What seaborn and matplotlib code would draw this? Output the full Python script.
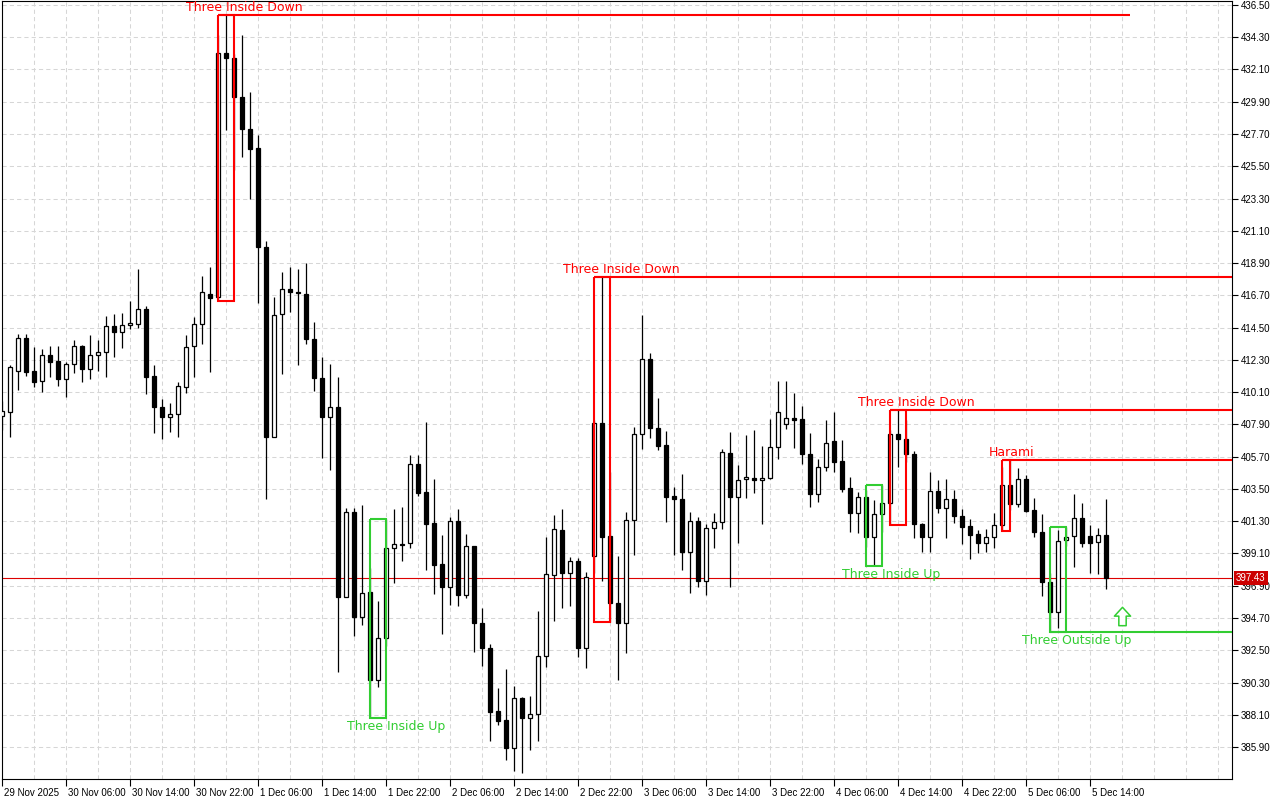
import numpy as np
import matplotlib
matplotlib.use("Agg")
import matplotlib.pyplot as plt
import matplotlib.transforms as mtransforms
from matplotlib.path import Path
import seaborn as sns

# ---------------- data (hourly candles, bar index 0 = 29 Nov 22:00) ----------------
opens = [408.50, 408.77, 411.56, 413.77, 411.54, 410.84, 412.61, 412.22, 410.97, 412.00,
         413.22, 411.66, 412.61, 412.82, 414.59, 414.18, 414.66, 414.74, 415.75, 411.20,
         409.07, 408.42, 408.59, 410.47, 413.22, 414.72, 416.79, 416.57, 433.25, 432.87,
         430.25, 428.02, 426.73, 419.98, 407.06, 415.41, 417.10, 416.94, 416.77, 413.70,
         411.04, 408.38, 409.07, 396.15, 401.90, 394.78, 396.45, 390.47, 393.31, 399.45,
         399.75, 399.79, 405.18, 403.29, 401.15, 398.36, 396.83, 401.31, 396.28, 399.58,
         394.33, 392.67, 388.36, 387.74, 385.81, 389.22, 387.86, 388.13, 392.08, 397.61,
         400.70, 397.78, 398.56, 392.67, 398.90, 407.97, 400.29, 395.74, 394.38, 401.38,
         407.22, 412.34, 407.63, 406.47, 403.00, 402.79, 399.22, 401.29, 397.20, 400.81,
         401.22, 405.93, 402.97, 404.15, 404.22, 404.09, 404.22, 406.34, 407.93, 408.32,
         408.25, 405.86, 403.13, 404.97, 406.77, 405.40, 403.54, 401.84, 402.93, 400.20,
         401.77, 402.52, 407.22, 406.88, 405.86, 401.09, 400.20, 403.36, 402.18, 402.81,
         401.67, 400.97, 400.40, 399.79, 400.20, 401.02, 403.77, 402.47, 404.15, 402.06,
         400.58, 397.13, 395.13, 400.02, 400.29, 401.49, 400.29, 399.90, 400.34]
highs = [409.50, 411.93, 414.06, 414.06, 413.16, 413.02, 413.24, 413.24, 412.13, 413.66,
         413.30, 413.99, 413.66, 415.29, 415.43, 415.50, 416.31, 418.48, 415.97, 411.96,
         409.63, 409.34, 410.81, 413.99, 415.20, 418.02, 418.65, 434.45, 435.82, 433.16,
         434.45, 430.55, 427.63, 420.43, 416.61, 418.27, 418.61, 418.48, 418.88, 414.86,
         412.47, 411.99, 411.11, 402.22, 402.22, 402.40, 398.08, 395.85, 401.43, 402.11,
         402.27, 405.81, 405.81, 408.08, 404.15, 400.36, 401.56, 402.11, 400.43, 399.60,
         395.40, 392.92, 389.94, 391.22, 390.06, 389.33, 389.38, 395.19, 400.24, 401.72,
         402.15, 398.88, 398.77, 397.85, 408.20, 417.97, 404.67, 398.94, 401.90, 407.74,
         415.36, 412.75, 409.68, 407.47, 403.65, 404.52, 401.95, 401.56, 401.11, 401.88,
         406.22, 407.40, 405.13, 407.18, 407.52, 406.43, 408.25, 410.86, 410.86, 410.02,
         409.15, 407.29, 405.54, 408.20, 408.72, 406.83, 404.29, 403.31, 403.43, 402.74,
         403.77, 407.50, 408.88, 408.20, 406.09, 401.20, 404.67, 404.11, 404.15, 403.43,
         402.13, 401.43, 400.70, 400.75, 401.88, 405.01, 405.47, 404.91, 404.45, 402.86,
         401.79, 397.74, 400.70, 400.92, 403.15, 402.52, 401.04, 400.81, 402.81]
lows = [407.50, 407.06, 410.25, 411.22, 410.47, 410.13, 411.15, 410.52, 409.79, 411.43,
        410.77, 411.02, 411.56, 411.15, 412.51, 413.09, 414.38, 414.49, 409.95, 407.33,
        406.88, 407.40, 407.02, 410.02, 411.11, 413.36, 411.49, 416.30, 427.97, 425.25,
        426.11, 423.25, 416.20, 402.81, 407.02, 411.36, 415.58, 411.95, 413.36, 410.20,
        405.63, 404.79, 391.03, 396.10, 393.49, 394.22, 387.88, 389.97, 392.80, 397.06,
        398.60, 399.49, 403.02, 397.97, 396.33, 393.60, 395.58, 395.53, 396.08, 392.40,
        391.42, 386.31, 387.40, 385.01, 384.28, 384.11, 385.69, 386.33, 391.37, 394.51,
        395.40, 395.53, 392.06, 391.27, 397.78, 397.24, 394.44, 390.47, 392.33, 398.99,
        406.22, 406.95, 406.15, 401.22, 398.99, 397.97, 396.42, 396.83, 396.26, 399.49,
        400.74, 396.83, 399.83, 402.90, 403.24, 401.11, 404.15, 405.52, 407.61, 406.31,
        405.18, 402.25, 402.63, 404.74, 404.67, 403.31, 400.58, 400.47, 399.56, 398.26,
        400.58, 401.04, 404.97, 405.35, 400.17, 399.22, 399.22, 401.88, 400.17, 401.20,
        399.74, 398.70, 399.11, 399.22, 399.45, 400.63, 402.06, 402.25, 401.95, 400.20,
        396.20, 393.76, 393.99, 399.61, 398.15, 399.52, 397.74, 397.70, 396.67]
closes = [408.80, 411.79, 413.77, 411.49, 410.81, 412.61, 412.17, 410.97, 412.00, 413.22,
          411.66, 412.61, 412.82, 414.59, 414.18, 414.66, 414.79, 415.75, 411.15, 409.11,
          408.42, 408.59, 410.52, 413.16, 414.72, 416.91, 416.54, 433.21, 432.87, 430.25,
          428.02, 426.66, 419.98, 407.06, 415.36, 417.11, 416.95, 416.85, 413.70, 411.04,
          408.38, 409.07, 396.15, 401.90, 394.78, 396.38, 390.47, 393.31, 399.45, 399.72,
          399.65, 405.18, 403.24, 401.13, 398.33, 396.83, 401.31, 396.28, 399.58, 394.33,
          392.67, 388.31, 387.69, 385.85, 389.22, 387.86, 388.13, 392.08, 397.68, 400.76,
          397.78, 398.56, 392.67, 397.47, 407.97, 400.24, 395.70, 394.38, 401.38, 407.24,
          412.34, 407.63, 406.45, 402.97, 402.79, 399.22, 401.29, 397.24, 400.81, 401.22,
          406.00, 402.97, 404.09, 404.29, 404.10, 404.24, 406.34, 408.77, 408.31, 408.20,
          405.86, 403.13, 404.97, 406.61, 405.35, 403.51, 401.84, 402.93, 400.20, 401.77,
          402.52, 407.22, 406.88, 405.86, 401.09, 400.20, 403.36, 402.18, 402.81, 401.65,
          400.92, 400.36, 399.79, 400.24, 401.02, 403.77, 402.47, 404.15, 402.01, 400.58,
          397.13, 395.13, 399.97, 400.20, 401.49, 399.83, 399.83, 400.34, 397.43]

x_tick_bars = list(range(0, 137, 8))
x_tick_labels = ["29 Nov 2025", "30 Nov 06:00", "30 Nov 14:00", "30 Nov 22:00",
                 "1 Dec 06:00", "1 Dec 14:00", "1 Dec 22:00", "2 Dec 06:00",
                 "2 Dec 14:00", "2 Dec 22:00", "3 Dec 06:00", "3 Dec 14:00",
                 "3 Dec 22:00", "4 Dec 06:00", "4 Dec 14:00", "4 Dec 22:00",
                 "5 Dec 06:00", "5 Dec 14:00"]
y_ticks = [385.90, 388.10, 390.30, 392.50, 394.70, 396.90, 399.10, 401.30, 403.50,
           405.70, 407.90, 410.10, 412.30, 414.50, 416.70, 418.90, 421.10, 423.30,
           425.50, 427.70, 429.90, 432.10, 434.30, 436.50]

pattern_names = ["Three Inside Down", "Three Inside Up", "Three Inside Down",
                 "Three Inside Up", "Three Inside Down", "Harami", "Three Outside Up"]
pattern_start = [27, 46, 74, 108, 111, 125, 131]
pattern_end = [29, 48, 76, 110, 113, 126, 133]
pattern_bullish = [False, True, False, True, False, False, True]
pattern_line_end = [141, None, "edge", None, "edge", "edge", "edge"]
pattern_label_x = [30.3, 49.2, 77.4, 111.15, 114.3, 126.2, 134.3]

current_price = 397.43
arrow_bar = 140
arrow_price = 394.85

# ---------------- style ----------------
sns.set_theme(style="white")
plt.rcParams['font.family'] = ['DejaVu Sans']

RED = "#ff0000"
GREEN = "#32cd32"
GRID = "#d6d6d6"

fig = plt.figure(figsize=(12.8, 8), dpi=100)
fig.patch.set_facecolor("white")
ax = fig.add_axes([2 / 1280, 21 / 800, 1230 / 1280, 778 / 800])
ax.set_facecolor("white")
XMIN, XMAX = -0.0375, 153.71
ax.set_xlim(XMIN, XMAX)
ax.set_ylim(383.72, 436.77)

O = np.array(opens); H = np.array(highs); L = np.array(lows); C = np.array(closes)
x = np.arange(len(O))

# grid
for yv in y_ticks:
    ax.axhline(yv, color=GRID, lw=0.75, ls=(0, (4, 3)), zorder=0)
for xv in np.arange(0, 153, 4):
    ax.axvline(xv, color=GRID, lw=0.75, ls=(0, (4, 3)), zorder=0)

# current price line
ax.axhline(current_price, color="#dd0000", lw=0.8, zorder=1)

# candles
up = C >= O
ax.vlines(x, L, H, color="black", lw=0.9, zorder=3)
bb = np.minimum(O, C)
bh = np.maximum(np.abs(C - O), 0.02)
ax.bar(x[up], bh[up], bottom=bb[up], width=0.52, facecolor="white",
       edgecolor="black", linewidth=0.9, zorder=4)
ax.bar(x[~up], bh[~up], bottom=bb[~up], width=0.52, facecolor="black",
       edgecolor="black", linewidth=0.9, zorder=4)

# patterns
for name, s, e, bull, lend, lx in zip(pattern_names, pattern_start, pattern_end,
                                       pattern_bullish, pattern_line_end, pattern_label_x):
    top = H[s:e + 1].max()
    bot = L[s:e + 1].min()
    col = GREEN if bull else RED
    ax.plot([s, s, e, e, s], [top, bot, bot, top, top], color=col, lw=1.5,
            zorder=5, solid_capstyle="butt", solid_joinstyle="miter")
    if lend is not None:
        xe = XMAX if lend == "edge" else lend
        yl = bot if bull else top
        ax.plot([s, xe], [yl, yl], color=col, lw=1.5, zorder=5, solid_capstyle="butt")
    if bull:
        ax.annotate(name, xy=(lx, bot), xytext=(0, -6.2), textcoords="offset points",
                    ha="center", va="center", color=col, fontsize=9, zorder=6)
    else:
        ax.annotate(name, xy=(lx, top), xytext=(0, 5.4), textcoords="offset points",
                    ha="center", va="center", color=col, fontsize=9, zorder=6)

# signal arrow (hollow up arrow)
verts = [(0, 0.5), (0.44, 0.02), (0.2, 0.02), (0.2, -0.5), (-0.2, -0.5),
         (-0.2, 0.02), (-0.44, 0.02), (0, 0.5)]
codes = [Path.MOVETO] + [Path.LINETO] * 6 + [Path.CLOSEPOLY]
arrow_path = Path(verts, codes)
sns.scatterplot(x=[arrow_bar], y=[arrow_price], marker=arrow_path, s=175,
                color="white", edgecolor=GREEN, linewidth=1.1, ax=ax, zorder=6,
                legend=False)

# axes / ticks
for sp in ax.spines.values():
    sp.set_visible(True)
    sp.set_color("black")
    sp.set_linewidth(0.8)

ax.yaxis.tick_right()
ax.set_yticks(y_ticks)
ax.set_yticklabels([f"{v:.2f}" for v in y_ticks], family="Liberation Sans", fontsize=7)
ax.tick_params(axis="y", which="major", direction="out", length=4, width=0.8,
               pad=2, colors="black", left=False, right=True)

ax.set_xticks(x_tick_bars)
ax.set_xticklabels(x_tick_labels, family="Liberation Sans", fontsize=7, ha="left")
ax.tick_params(axis="x", which="major", direction="out", length=5, width=0.8,
               pad=1.5, colors="black", bottom=True, top=False)
offset = mtransforms.ScaledTranslation(1.5 / 100, 0, fig.dpi_scale_trans)
for lab in ax.get_xticklabels():
    lab.set_transform(lab.get_transform() + offset)

ax.set_xlabel("")
ax.set_ylabel("")

# current price tag on the right axis
tag_tr = mtransforms.blended_transform_factory(ax.transAxes, ax.transData)
ax.text(1.0 + 4 / 1230, current_price, f"{current_price:.2f}", transform=tag_tr,
        ha="left", va="center", color="white", fontsize=7, family="Liberation Sans",
        bbox=dict(boxstyle="square,pad=0.22", fc="#cc0000", ec="none"),
        zorder=10, clip_on=False)

fig.savefig("out.png", dpi=100, facecolor="white")
